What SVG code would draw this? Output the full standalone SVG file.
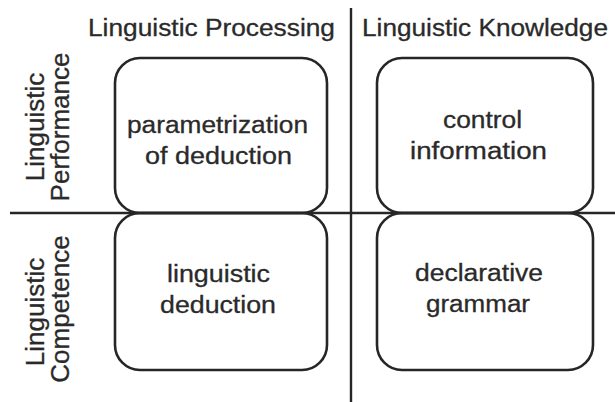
<svg xmlns="http://www.w3.org/2000/svg" width="615" height="402" viewBox="0 0 615 402">
<style>
.box{fill:none;stroke:#262626;stroke-width:2.6}
.axis{stroke:#262626;stroke-width:2.4;fill:none}
text{font-family:"Liberation Sans",Arial,sans-serif;font-size:23px;fill:#2a2a2a;stroke:#2a2a2a;stroke-width:0.3;text-anchor:middle}
.side{font-size:26px}
</style>
<rect width="615" height="402" fill="#ffffff"/>
<g id="connectors">
<line class="axis" x1="10" y1="213" x2="615" y2="213"/>
<line class="axis" x1="351" y1="8" x2="351" y2="402"/>
</g>
<g id="header-processing"><text x="211.5" y="36" textLength="247" lengthAdjust="spacingAndGlyphs">Linguistic Processing</text></g>
<g id="header-knowledge"><text x="485" y="36" textLength="246" lengthAdjust="spacingAndGlyphs">Linguistic Knowledge</text></g>
<g id="header-performance">
<text class="side" transform="translate(44,127) rotate(-90)">Linguistic</text>
<text class="side" transform="translate(69,127) rotate(-90)">Performance</text>
</g>
<g id="header-competence">
<text class="side" transform="translate(44,312) rotate(-90)">Linguistic</text>
<text class="side" transform="translate(69,309) rotate(-90)">Competence</text>
</g>
<g id="parametrization">
<rect class="box" x="115" y="58" width="212" height="155" rx="25"/>
<text x="217.5" y="133" textLength="181" lengthAdjust="spacingAndGlyphs">parametrization</text>
<text x="218.5" y="164" textLength="147" lengthAdjust="spacingAndGlyphs">of deduction</text>
</g>
<g id="control">
<rect class="box" x="377" y="58" width="216" height="155" rx="25"/>
<text x="482.5" y="128" textLength="79" lengthAdjust="spacingAndGlyphs">control</text>
<text x="478.5" y="159" textLength="137" lengthAdjust="spacingAndGlyphs">information</text>
</g>
<g id="linguistic-deduction">
<rect class="box" x="115" y="213" width="212" height="157" rx="25"/>
<text x="218.5" y="282" textLength="103" lengthAdjust="spacingAndGlyphs">linguistic</text>
<text x="218" y="313" textLength="116" lengthAdjust="spacingAndGlyphs">deduction</text>
</g>
<g id="declarative-grammar">
<rect class="box" x="377" y="213" width="216" height="157" rx="25"/>
<text x="479" y="281" textLength="128" lengthAdjust="spacingAndGlyphs">declarative</text>
<text x="478" y="312" textLength="104" lengthAdjust="spacingAndGlyphs">grammar</text>
</g>
</svg>
